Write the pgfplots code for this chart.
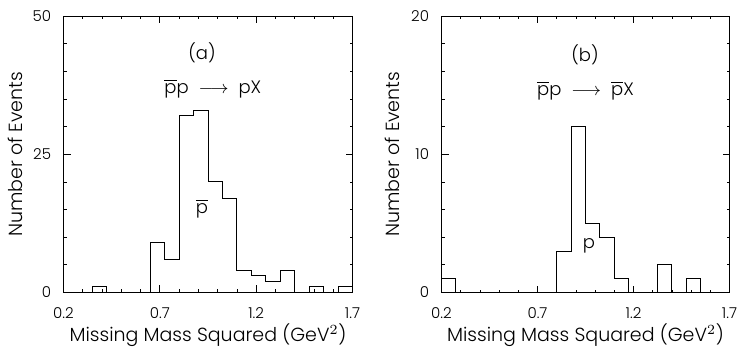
\documentclass[border=0pt]{standalone}
\usepackage{pgfplots}
\pgfplotsset{compat=1.18}
\usepackage{fontspec}
\setmainfont{Poppins}[UprightFont=* Light]
\newcommand\pbar{\ensuremath{\overline{\hbox{p}}}}
\newcommand\reac[1]{\pbar p\hspace{5pt}$\longrightarrow$\hspace{5pt}#1X}

\pgfplotsset{
  hist/.style={
    scale only axis,
    xmin=0.2, xmax=1.7, ymin=0,
    xtick={0.2,0.7,1.2,1.7},
    xticklabels={0.2,0.7,1.2,1.7},
    minor x tick num=4,
    minor y tick num=4,
    tick align=inside,
    major tick length=3.5pt,
    minor tick length=1.5pt,
    axis line style={line width=0.5pt},
    every tick/.style={line width=0.4pt, black},
    /pgf/number format/assume math mode=true,
    tick label style={font=\fontsize{7.5}{9}\selectfont},
    xticklabel style={anchor=center, yshift=-10.5pt},
    yticklabel style={anchor=east, xshift=-2.7pt},
    label style={font=\fontsize{9.5}{11}\selectfont},
    xlabel={Missing Mass Squared (GeV$^2$)},
    xlabel style={at={(axis description cs:0.5,0)}, anchor=center, yshift=-21.5pt},
    ylabel={Number of Events},
  },
  histline/.style={const plot mark left, no marks, line width=0.5pt, black},
}

\begin{document}
\begin{tikzpicture}
\path[use as bounding box] (0,0) rectangle (372pt,-174.5pt);

% (a) missing mass against the detected proton
\begin{axis}[hist,
  at={(31.75pt,-8pt)}, anchor=north west,
  width=144.5pt, height=138.25pt,
  ymax=50, ytick={0,25,50},
  ylabel style={at={(axis description cs:-0.166,0.5)}, anchor=center}]
\addplot[histline] coordinates {
  (0.200,0) (0.275,0) (0.350,1) (0.425,0) (0.500,0) (0.575,0)
  (0.650,9) (0.725,6) (0.800,32) (0.875,33) (0.950,20) (1.025,17)
  (1.100,4) (1.175,3) (1.250,2) (1.325,4) (1.400,0) (1.475,1)
  (1.550,0) (1.625,1) (1.700,1)
};
\node[font=\fontsize{9}{10}\selectfont] at (axis cs:0.919,43.3) {(a)};
\node[font=\fontsize{9}{10}\selectfont] at (axis cs:0.975,36.9) {\reac{p}};
\node[font=\fontsize{9}{10}\selectfont] at (axis cs:0.919,15.2) {\pbar};
\end{axis}

% (b) missing mass against the detected antiproton
\begin{axis}[hist,
  at={(220.75pt,-8pt)}, anchor=north west,
  width=144pt, height=138.25pt,
  ymax=20, ytick={0,10,20},
  ylabel style={at={(axis description cs:-0.170,0.5)}, anchor=center}]
\addplot[histline] coordinates {
  (0.200,1) (0.275,0) (0.350,0) (0.425,0) (0.500,0) (0.575,0)
  (0.650,0) (0.725,0) (0.800,3) (0.875,12) (0.950,5) (1.025,4)
  (1.100,1) (1.175,0) (1.250,0) (1.325,2) (1.400,0) (1.475,1)
  (1.550,0) (1.625,0) (1.700,0)
};
\node[font=\fontsize{9}{10}\selectfont] at (axis cs:0.947,17.2) {(b)};
\node[font=\fontsize{9}{10}\selectfont] at (axis cs:0.950,14.6) {\reac{\pbar}};
\node[font=\fontsize{9}{10}\selectfont] at (axis cs:0.968,3.4) {p};
\end{axis}
\end{tikzpicture}
\end{document}
